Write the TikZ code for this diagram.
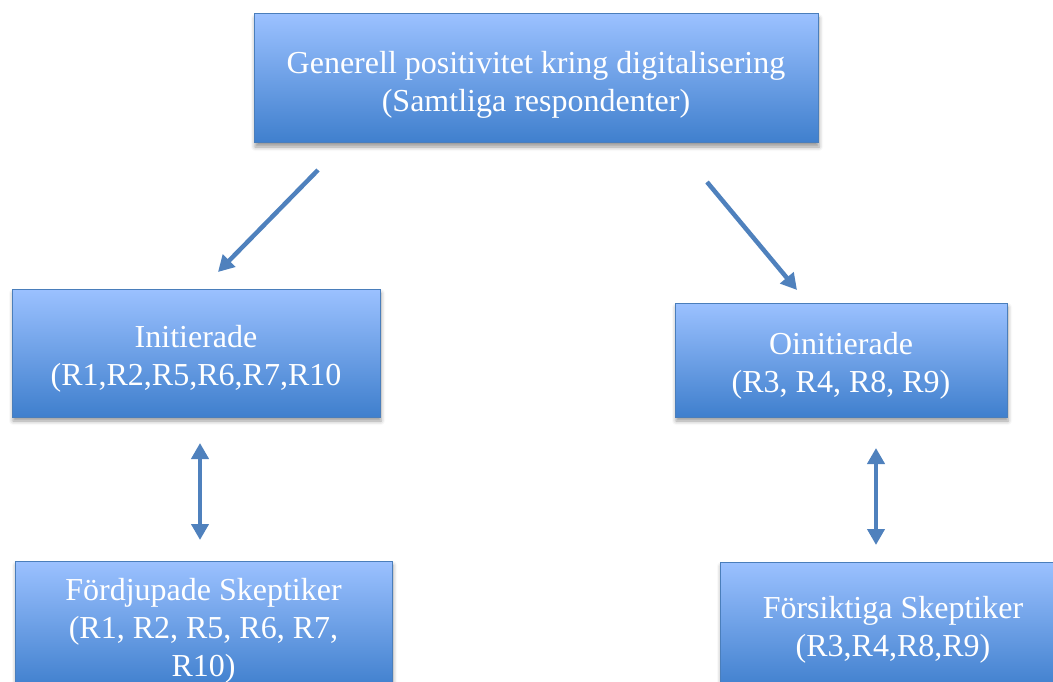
\documentclass[tikz,border=0pt]{standalone}
\usepackage{fontspec}
\setmainfont{Liberation Serif}
\usetikzlibrary{arrows.meta,shadows.blur}
\definecolor{boxtop}{HTML}{9BC1FF}
\definecolor{boxbot}{HTML}{3F7FCD}
\definecolor{boxline}{HTML}{4A7EBB}
\definecolor{arr}{HTML}{4F81BD}
\newcommand\mydn{\rule{0pt}{34pt}}
\begin{document}
\begin{tikzpicture}[x=1pt,y=-1pt,
 box/.style={draw=boxline, line width=1pt, top color=boxtop, bottom color=boxbot,
   text=white, align=center, font=\fontsize{32}{38}\selectfont, inner sep=0pt,
   blur shadow={shadow xshift=1pt,shadow yshift=-4pt,shadow blur radius=4pt,shadow opacity=40}},
 conn/.style={draw=arr, line width=4.5pt, -{Triangle[length=16pt,width=17pt]}},
 dconn/.style={draw=arr, line width=4.5pt, {Triangle[length=16pt,width=17pt]}-{Triangle[length=16pt,width=17pt]}}
]
\useasboundingbox (0,0) rectangle (1053,682);
\clip (0,0) rectangle (1053,682);
\node[box, minimum width=564pt, minimum height=129pt] (top) at (536,78.5)
  {\mydn Generell positivitet kring digitalisering\\(Samtliga respondenter)};
\node[box, minimum width=368pt, minimum height=128pt] (ini) at (196,353)
  {\mydn Initierade\\(R1,R2,R5,R6,R7,R10};
\node[box, minimum width=332pt, minimum height=114pt] (oini) at (841,360)
  {\mydn Oinitierade\\(R3, R4, R8, R9)};
\node[box, minimum width=377pt, minimum height=128pt] (ford) at (203.5,625)
  {\mydn Fördjupade Skeptiker\\(R1, R2, R5, R6, R7,\\R10)};
\node[box, minimum width=346pt, minimum height=128pt] (fors) at (893,626)
  {\rule{0pt}{30pt}Försiktiga Skeptiker\\(R3,R4,R8,R9)};
\coordinate (a1s) at (318,170);
\coordinate (a1e) at (218,272);
\coordinate (a2s) at (707,182);
\coordinate (a2e) at (797,290);
\coordinate (a3s) at (200,443);
\coordinate (a3e) at (200,540);
\coordinate (a4s) at (876,448);
\coordinate (a4e) at (876,545);
\draw[conn] (a1s) -- (a1e);
\draw[conn] (a2s) -- (a2e);
\draw[dconn] (a3s) -- (a3e);
\draw[dconn] (a4s) -- (a4e);
\end{tikzpicture}
\end{document}
